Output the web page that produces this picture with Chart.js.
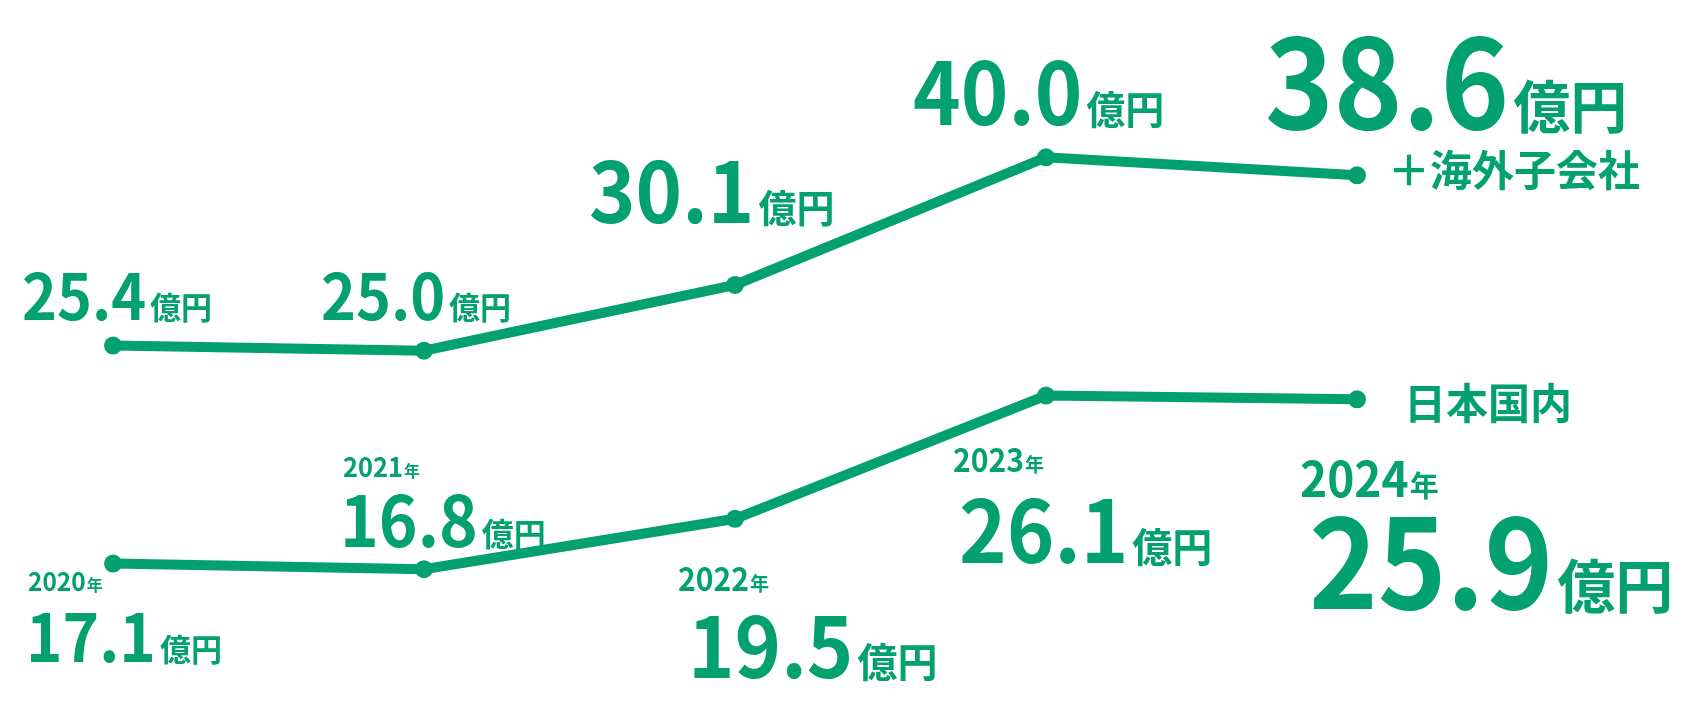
<!DOCTYPE html>
<html lang="ja">
<head>
<meta charset="utf-8">
<title>売上推移</title>
<script src="https://cdn.jsdelivr.net/npm/chart.js@4.4.1/dist/chart.umd.min.js"></script>
<style>
  html, body { margin: 0; padding: 0; background: #fff; }
  #wrap { width: 1691px; height: 722px; position: relative; }
</style>
</head>
<body>
<div id="wrap"><canvas id="canvas-sales"></canvas></div>
<script>
// data
const years = ["2020", "2021", "2022", "2023", "2024"];
const totalValues = [25.4, 25.0, 30.1, 40.0, 38.6];     // 日本国内＋海外子会社
const domesticValues = [17.1, 16.8, 19.5, 26.1, 25.9];  // 日本国内
const totalName = "＋海外子会社";
const domesticName = "日本国内";
const unitText = "億円";
const yearSuffix = "年";

const GREEN = "#03a070";
const NUM_FONT = '"Noto Sans CJK JP", "Liberation Sans", sans-serif';
const JP_FONT = '"Noto Sans CJK JP", "Noto Sans", sans-serif';
const SQUEEZE = 0.94; // digits are a bit narrower than the stock font

// label placement relative to each point (dx/dy = left edge / baseline of the number)
const totalLabelStyle = [
  { dx: -91, dy: -26, size: 63, unit: 31 },
  { dx: -103, dy: -31, size: 63, unit: 31 },
  { dx: -146, dy: -62, size: 84, unit: 38 },
  { dx: -133, dy: -32, size: 86, unit: 39 },
  { dx: -92, dy: -46, size: 124, unit: 57 },
];
const domesticLabelStyle = [
  { dx: -87, dy: 98, size: 66, unit: 31, ydx: -85, ydy: 27, ysize: 26 },
  { dx: -84, dy: -22, size: 70, unit: 32, ydx: -81, ydy: -92, ysize: 27 },
  { dx: -47, dy: 159, size: 84, unit: 40, ydx: -57, ydy: 72, ysize: 32 },
  { dx: -87, dy: 167, size: 86, unit: 40, ydx: -93, ydy: 76, ysize: 32 },
  { dx: -48, dy: 210, size: 124, unit: 58, ydx: -57, ydy: 98, ysize: 49 },
];

function squeezedText(ctx, txt, x, y) {
  ctx.save();
  ctx.translate(x, y);
  ctx.scale(SQUEEZE, 1);
  ctx.fillText(txt, 0, 0);
  ctx.restore();
  return ctx.measureText(txt).width * SQUEEZE;
}

function drawValue(ctx, x, y, value, st) {
  ctx.textBaseline = "alphabetic";
  ctx.textAlign = "left";
  ctx.font = "bold " + st.size + "px " + NUM_FONT;
  const w = squeezedText(ctx, value.toFixed(1), x + st.dx, y + st.dy);
  ctx.font = "bold " + st.unit + "px " + JP_FONT;
  ctx.fillText(unitText, x + st.dx + w + 4, y + st.dy - 1);
}

function drawYear(ctx, x, y, year, st) {
  ctx.textBaseline = "alphabetic";
  ctx.textAlign = "left";
  ctx.font = "bold " + st.ysize + "px " + NUM_FONT;
  const w = squeezedText(ctx, year, x + st.ydx, y + st.ydy);
  ctx.font = "bold " + Math.round(st.ysize * 0.6) + "px " + JP_FONT;
  ctx.fillText(yearSuffix, x + st.ydx + w + 1, y + st.ydy);
}

const labelPlugin = {
  id: "valueLabels",
  afterDatasetsDraw(chart) {
    const ctx = chart.ctx;
    ctx.save();
    ctx.fillStyle = GREEN;

    const top = chart.getDatasetMeta(0).data;
    top.forEach((pt, i) => drawValue(ctx, pt.x, pt.y, totalValues[i], totalLabelStyle[i]));

    const bottom = chart.getDatasetMeta(1).data;
    bottom.forEach((pt, i) => {
      drawYear(ctx, pt.x, pt.y, years[i], domesticLabelStyle[i]);
      drawValue(ctx, pt.x, pt.y, domesticValues[i], domesticLabelStyle[i]);
    });

    // series names at the end of each line
    ctx.textBaseline = "middle";
    ctx.font = "bold 42px " + JP_FONT;
    const lastTop = top[top.length - 1];
    ctx.fillText(totalName, lastTop.x + 31, lastTop.y - 5);
    const lastBottom = bottom[bottom.length - 1];
    ctx.fillText(domesticName, lastBottom.x + 47, lastBottom.y + 4);
    ctx.restore();
  },
};

new Chart(document.getElementById("canvas-sales"), {
  type: "line",
  plugins: [labelPlugin],
  data: {
    labels: years,
    datasets: [
      {
        label: totalName,
        data: totalValues,
        yAxisID: "yTotal",
        borderColor: GREEN,
        backgroundColor: GREEN,
        borderWidth: 10,
        pointRadius: 9,
        pointBorderWidth: 0,
        pointBackgroundColor: GREEN,
        tension: 0,
        clip: false,
      },
      {
        label: domesticName,
        data: domesticValues,
        yAxisID: "yDomestic",
        borderColor: GREEN,
        backgroundColor: GREEN,
        borderWidth: 10,
        pointRadius: 9,
        pointBorderWidth: 0,
        pointBackgroundColor: GREEN,
        tension: 0,
        clip: false,
      },
    ],
  },
  options: {
    responsive: true,
    maintainAspectRatio: false,
    animation: false,
    layout: {
      padding: { left: 113, right: 334, top: 0, bottom: 0 },
    },
    scales: {
      x: { display: false, offset: false },
      yTotal: { display: false, min: -3.1, max: 51.5 },
      yDomestic: { display: false, min: 9.1, max: 46.8 },
    },
    plugins: {
      legend: { display: false },
      tooltip: { enabled: false },
    },
  },
});
</script>
</body>
</html>
